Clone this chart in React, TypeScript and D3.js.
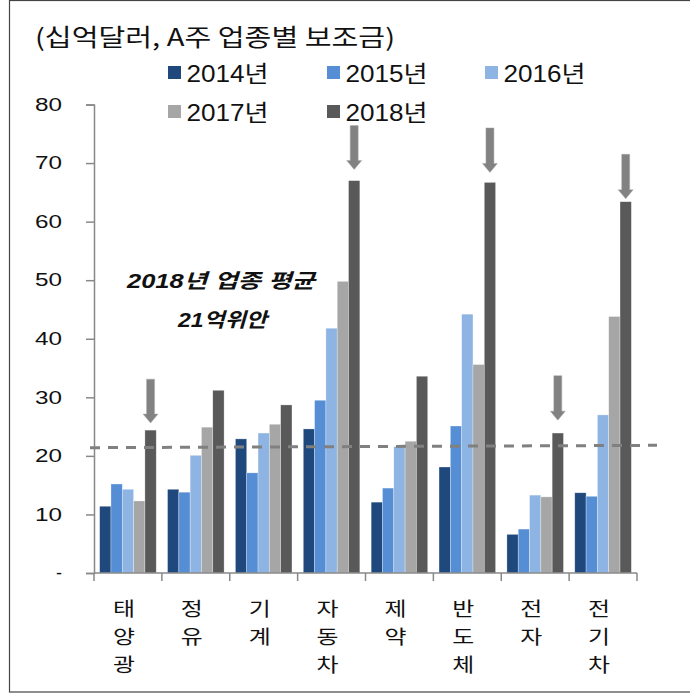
import React, { useEffect, useRef } from 'react'
import * as d3 from 'd3'

const categories = ['태양광', '정유', '기계', '자동차', '제약', '반도체', '전자', '전기차']
const years = ['2014년', '2015년', '2016년', '2017년', '2018년']
const v2014 = [11.4, 14.3, 22.9, 24.6, 12.1, 18.1, 6.6, 13.7]
const v2015 = [15.2, 13.8, 17.1, 29.5, 14.5, 25.1, 7.5, 13.1]
const v2016 = [14.3, 20.1, 23.9, 41.8, 21.6, 44.2, 13.3, 27.0]
const v2017 = [12.3, 24.9, 25.4, 49.8, 22.5, 35.6, 13.0, 43.8]
const v2018 = [24.4, 31.2, 28.7, 67.0, 33.6, 66.7, 23.9, 63.4]
const yTicks = [0, 10, 20, 30, 40, 50, 60, 70, 80]
const colors = ['#1f497d', '#558ed5', '#8eb4e3', '#a6a6a6', '#595959']
// 평균선 (왼쪽, 오른쪽 끝 값)
const avgLine = [21.4, 21.8]
// 화살표: 업종, 꼬리 값, 끝 값
const arrowCats = ['태양광', '자동차', '반도체', '전자', '전기차']
const arrowTail = [33.1, 76.4, 76.0, 33.7, 71.5]
const arrowTip = [25.6, 68.9, 68.4, 26.1, 63.9]

const series = [v2014, v2015, v2016, v2017, v2018]

function App() {
  const ref = useRef<SVGSVGElement>(null)

  useEffect(() => {
    const svg = d3.select(ref.current)
    svg.selectAll('*').remove()
    const W = 690, H = 694
    const left = 94, right = 637, top = 104.5, bottom = 573
    const kr = "'Noto Sans CJK KR', sans-serif"
    const num = "'Liberation Sans', 'Noto Sans CJK KR', sans-serif"

    // 테두리
    svg.append('rect').attr('x', 9.5).attr('y', 0.5).attr('width', W + 10).attr('height', H - 2.5)
      .attr('fill', 'white').attr('stroke', '#444').attr('stroke-width', 1.2)

    const x = d3.scaleBand().domain(categories).range([left, right]).padding(0)
    const xi = d3.scaleBand().domain(years)
      .range([x.bandwidth() / 12, x.bandwidth() * 11 / 12]).padding(0)
    const y = d3.scaleLinear().domain([0, 80]).range([bottom, top])

    // 막대
    series.forEach((vals, si) => {
      svg.append('g').selectAll('rect').data(vals).enter().append('rect')
        .attr('x', (d, i) => (x(categories[i]) as number) + (xi(years[si]) as number))
        .attr('y', d => y(d))
        .attr('width', xi.bandwidth())
        .attr('height', d => y(0) - y(d))
        .attr('fill', colors[si])
        .attr('stroke', 'rgba(255,255,255,0.5)').attr('stroke-width', 0.6)
    })

    // y축
    const yAxis = d3.axisLeft(y).tickValues(yTicks).tickSize(8).tickPadding(24)
      .tickFormat(d => (d === 0 ? '-' : String(d)))
    const gy = svg.append('g').attr('transform', `translate(${left},0)`).call(yAxis)
    gy.select('.domain').attr('stroke', '#888').attr('stroke-width', 1.5)
    gy.selectAll('.tick line').attr('stroke', '#888').attr('stroke-width', 1.5)
    gy.selectAll('.tick text').attr('font-family', num).attr('font-size', 18).attr('fill', '#111')
      .filter(d => d !== 0)
      .attr('textLength', 27).attr('lengthAdjust', 'spacingAndGlyphs')

    // x축
    svg.append('line').attr('x1', left).attr('x2', right).attr('y1', bottom).attr('y2', bottom)
      .attr('stroke', '#888').attr('stroke-width', 1.5)
    const bounds = categories.map(c => x(c) as number).concat([right])
    svg.append('g').selectAll('line').data(bounds).enter().append('line')
      .attr('x1', d => d).attr('x2', d => d).attr('y1', bottom).attr('y2', bottom + 8)
      .attr('stroke', '#888').attr('stroke-width', 1.5)

    // x 라벨 (세로쓰기, 글자마다 한 줄)
    categories.forEach(c => {
      c.split('').forEach((ch, k) => {
        const cx = (x(c) as number) + x.bandwidth() / 2 - 4
        svg.append('text').attr('font-family', kr).attr('font-size', 19)
          .attr('fill', '#111')
          .attr('x', cx - 11).attr('y', 616 + k * 28)
          .attr('textLength', 22).attr('lengthAdjust', 'spacingAndGlyphs')
          .text(ch)
      })
    })

    // 평균선
    svg.append('line').attr('x1', 90).attr('x2', 657)
      .attr('y1', y(avgLine[0])).attr('y2', y(avgLine[1]))
      .attr('stroke', '#808080').attr('stroke-width', 3).attr('stroke-dasharray', '10,8')

    // 화살표
    arrowCats.forEach((c, i) => {
      const cx = (x(c) as number) + (xi('2018년') as number) + xi.bandwidth() / 2
      const y0 = y(arrowTail[i]), y1 = y(arrowTip[i])
      const hh = 9
      const p = d3.path()
      p.moveTo(cx - 4, y0)
      p.lineTo(cx + 4, y0)
      p.lineTo(cx + 4, y1 - hh)
      p.lineTo(cx + 7.5, y1 - hh)
      p.lineTo(cx, y1)
      p.lineTo(cx - 7.5, y1 - hh)
      p.lineTo(cx - 4, y1 - hh)
      p.closePath()
      svg.append('path').attr('d', p.toString()).attr('fill', '#828282')
        .attr('stroke', '#aaa').attr('stroke-width', 0.5)
    })

    // 제목
    svg.append('text').attr('x', 35).attr('y', 46).attr('font-family', kr)
      .attr('font-size', 24).attr('fill', '#111')
      .attr('textLength', 360).attr('lengthAdjust', 'spacingAndGlyphs')
      .text('(십억달러, A주 업종별 보조금)')

    // 범례
    const legX = [168, 327, 485]
    const legY = [66, 105]
    years.forEach((yr, i) => {
      const lx = legX[i % 3], ly = legY[Math.floor(i / 3)]
      svg.append('rect').attr('x', lx).attr('y', ly).attr('width', 13).attr('height', 13)
        .attr('fill', colors[i])
      svg.append('text').attr('x', lx + 18.5).attr('y', ly + 15.5).attr('font-family', num)
        .attr('font-size', 23).attr('fill', '#111')
        .attr('textLength', 82).attr('lengthAdjust', 'spacingAndGlyphs').text(yr)
    })

    // 주석
    const noteStyle = (t: any) => t.attr('font-family', num).attr('font-size', 20)
      .attr('font-weight', 'bold').attr('font-style', 'italic').attr('fill', '#111')
      .attr('lengthAdjust', 'spacingAndGlyphs')
    noteStyle(svg.append('text')).attr('x', 127).attr('y', 288)
      .attr('textLength', 188).text('2018년 업종 평균')
    noteStyle(svg.append('text')).attr('x', 178).attr('y', 327)
      .attr('textLength', 89).text('21억위안')
  }, [])

  return (
    <div style={{ position: 'absolute', left: 0, top: 0 }}>
      <svg ref={ref} width={690} height={694} />
    </div>
  )
}

export default App
